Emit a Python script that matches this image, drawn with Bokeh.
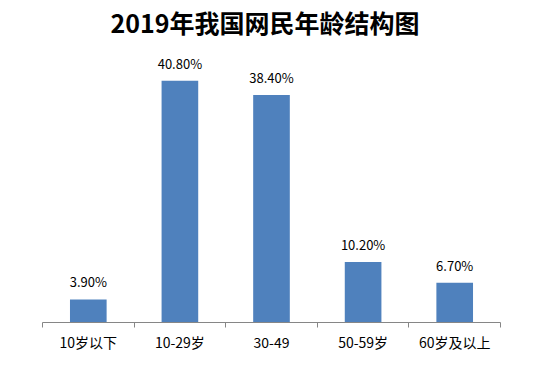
from bokeh.plotting import figure
from bokeh.models import FixedTicker, ColumnDataSource, Range1d
from bokeh.core.properties import value
from bokeh.embed import file_html
from bokeh.resources import INLINE

categories = ["10岁以下", "10-29岁", "30-49", "50-59岁", "60岁及以上"]
shares = [3.9, 40.8, 38.4, 10.2, 6.7]
labels = ["3.90%", "40.80%", "38.40%", "10.20%", "6.70%"]

xs = [i + 0.5 for i in range(len(categories))]
src = ColumnDataSource(dict(x=xs, y=shares, lab=labels))

FONT = "Noto Sans CJK SC"

p = figure(width=522, height=354, output_backend="svg", toolbar_location=None,
           x_range=Range1d(0, len(categories)), y_range=Range1d(0, 47.6),
           min_border_left=42, min_border_right=22, min_border_bottom=30,
           min_border_top=40)
p.title.text = "2019年我国网民年龄结构图"
p.title.align = "left"
p.title.text_font = FONT
p.title.text_font_size = "25px"
p.title.text_font_style = "bold"
p.title.text_color = "#000000"
p.title.offset = 68
p.title.standoff = 2

p.vbar(x="x", top="y", width=0.4, source=src, color="#4F81BD", line_color=None)
p.text(x="x", y="y", text="lab", source=src, y_offset=-8,
       text_align="center", text_baseline="bottom",
       text_font=value(FONT), text_font_size="13px", text_color="#000000")

p.yaxis.visible = False
p.grid.visible = False
p.outline_line_color = None

ax = p.xaxis[0]
ax.ticker = FixedTicker(ticks=xs, minor_ticks=list(range(len(categories) + 1)))
ax.major_label_overrides = {x: c for x, c in zip(xs, categories)}
ax.major_tick_line_color = None
ax.minor_tick_in = 0
ax.minor_tick_out = 5
ax.minor_tick_line_color = "#868686"
ax.axis_line_color = "#868686"
ax.major_label_text_font = FONT
ax.major_label_text_font_size = "14px"
ax.major_label_text_color = "#000000"
ax.major_label_standoff = 3

open("out.html", "w").write(file_html(p, INLINE))
